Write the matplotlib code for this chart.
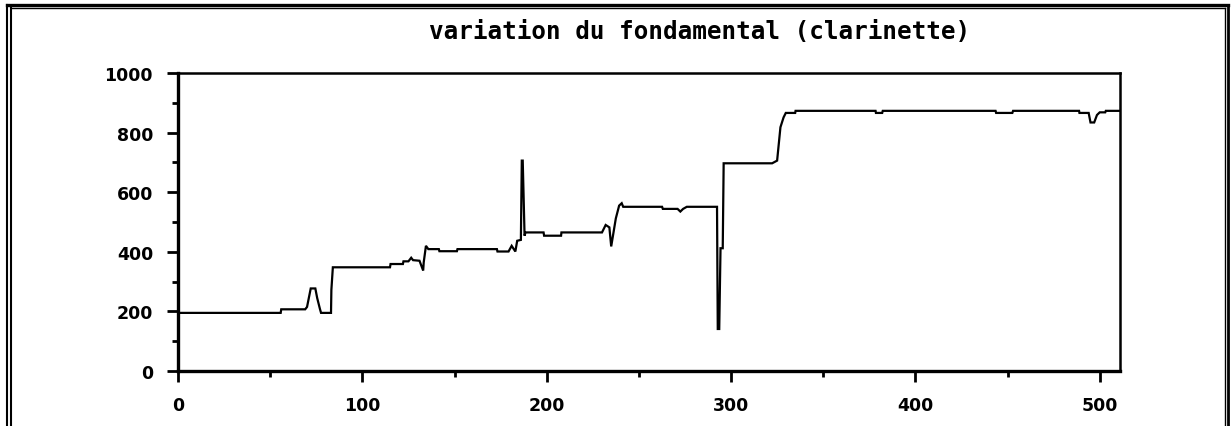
import numpy as np
import matplotlib.pyplot as plt
from matplotlib.lines import Line2D
from matplotlib.ticker import MultipleLocator

# fundamental frequency (sample index, Hz)
sample = [0, 55.7, 56, 69, 70, 72, 74.5, 75.5, 77, 77.6, 83, 83.2, 84,
          115, 115.3, 122, 122.3, 125, 126.5, 127.5, 131, 133, 133.3, 134.5,
          135.8, 141.5, 141.8, 151.3, 151.6, 173, 173.3, 179.3, 181, 183, 184,
          186, 186.5, 187, 187.5, 188, 188.5, 198.3, 198.6, 207.8, 208, 230,
          232, 234, 235, 237.5, 239.3, 240.7, 241.5, 262.6, 263, 271, 272.5,
          274, 276, 292.4, 292.8, 293.6, 294.3, 295.5, 296, 322.3, 325, 326.8,
          328.5, 329.7, 334.8, 335, 378.4, 378.6, 382, 382.3, 443.5, 443.8,
          452.6, 453, 488.8, 489, 494, 495, 497, 498.5, 500, 503, 503.3, 511]
freq = [195, 195, 207, 207, 215, 277, 277, 245, 208, 195, 195, 272, 348,
        348, 359, 359, 368, 368, 380, 372, 370, 337, 365, 420,
        409, 409, 402, 402, 409, 409, 401, 401, 420, 401, 437,
        440, 706, 706, 580, 454, 465, 465, 454, 454, 465, 465,
        490, 482, 418, 512, 555, 563, 551, 551, 544, 544, 535,
        544, 551, 551, 141, 141, 412, 412, 697, 697, 706, 818,
        851, 866, 866, 873, 873, 866, 866, 873, 873, 866,
        866, 873, 873, 866, 866, 834, 834, 859, 868, 868, 873, 873]

fig = plt.figure(figsize=(12.32, 4.27), dpi=100)
ax = fig.add_axes([178 / 1232, 1 - 372 / 427, (1120 - 178) / 1232, (372 - 74) / 427])

ax.plot(sample, freq, color='black', linewidth=1.6, solid_joinstyle='miter')

ax.set_xlim(0, 511)
ax.set_ylim(0, 1000)
ax.xaxis.set_major_locator(MultipleLocator(100))
ax.xaxis.set_minor_locator(MultipleLocator(50))
ax.yaxis.set_major_locator(MultipleLocator(200))
ax.yaxis.set_minor_locator(MultipleLocator(100))
ax.tick_params(which='major', direction='out', length=8, width=2, pad=10,
               labelsize=12.5, colors='black')
ax.tick_params(which='minor', direction='out', length=4, width=2)
for lab in ax.get_xticklabels() + ax.get_yticklabels():
    lab.set_fontweight('bold')

for side in ['left', 'bottom']:
    ax.spines[side].set_linewidth(2.4)
for side in ['top', 'right']:
    ax.spines[side].set_linewidth(1.8)

fig.text(700 / 1232, 1 - 32 / 427, 'variation du fondamental (clarinette)',
         ha='center', va='center', fontsize=17.5, fontweight='bold',
         family='DejaVu Sans Mono')

# double frame around the picture
def fline(x, y, lw):
    fig.add_artist(Line2D([v / 1232 for v in x], [1 - v / 427 for v in y],
                          color='black', linewidth=lw, transform=fig.transFigure))

fline([7, 1228], [5.5, 5.5], 2.4)
fline([1228, 1228], [5.5, 427], 2.0)
fline([11, 1225], [9, 9], 1.0)
fline([1225, 1225], [9, 427], 1.0)
fline([7, 7], [5.5, 427], 1.5)
fline([11, 11], [9, 427], 1.5)

fig.savefig('out.png', dpi=100)
